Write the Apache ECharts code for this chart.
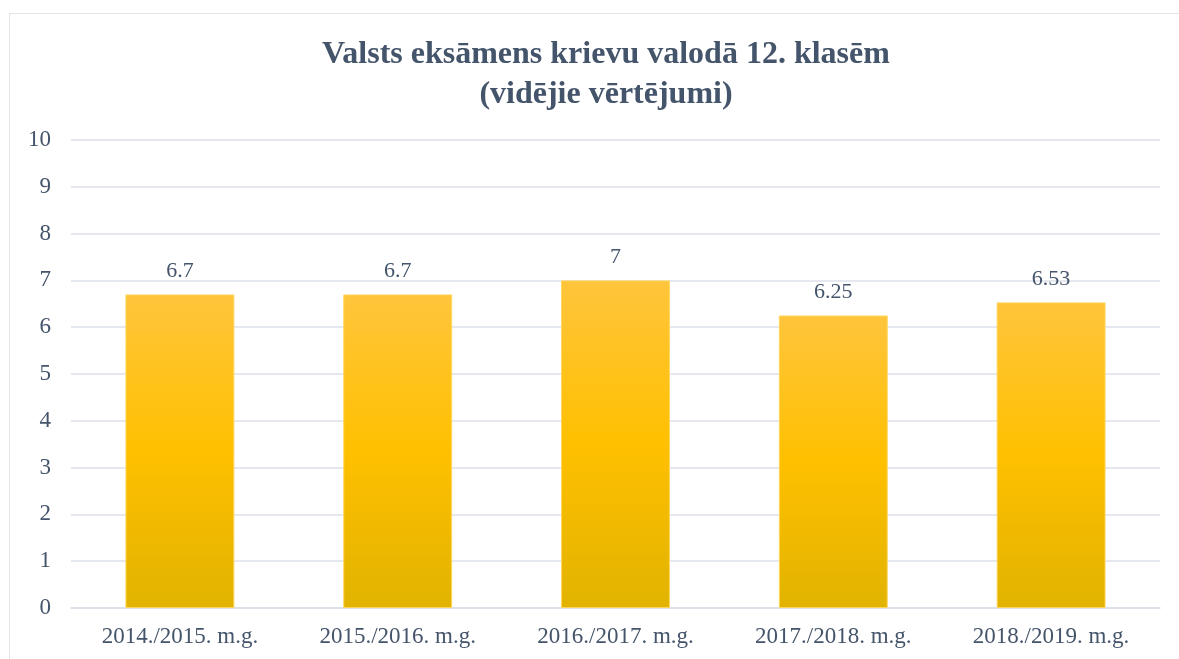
<!DOCTYPE html>
<html lang="lv">
<head>
  <meta charset="UTF-8">
  <title>Valsts eksāmens krievu valodā</title>
  <style>
    html, body { margin: 0; padding: 0; background: #fff; overflow: hidden; }
    #frame { position: absolute; left: 9px; top: 13px; width: 1200px; height: 700px;
             border: 1px solid #e1e4e9; box-sizing: border-box; }
    #chart { position: absolute; left: 0; top: 0; width: 1179px; height: 659px; }
  </style>
</head>
<body>
  <div id="frame"></div>
  <div id="chart"></div>

<script src="https://cdn.jsdelivr.net/npm/echarts@6/dist/echarts.min.js"></script>
<script>
  const years = ['2014./2015. m.g.', '2015./2016. m.g.', '2016./2017. m.g.', '2017./2018. m.g.', '2018./2019. m.g.'];
  const averages = [6.7, 6.7, 7, 6.25, 6.53];

  const textColor = '#44546a';
  const serif = '"Liberation Serif", "Times New Roman", serif';

  const myChart = echarts.init(document.getElementById('chart'));
  const option = {
    title: {
      text: 'Valsts eksāmens krievu valodā 12. klasēm\n(vidējie vērtējumi)',
      left: 601,
      textAlign: 'center',
      top: 30,
      textStyle: {
        fontFamily: serif,
        fontWeight: 'bold',
        fontSize: 32,
        lineHeight: 40,
        color: textColor
      }
    },
    grid: {
      left: 71,
      right: 19,
      top: 140,
      bottom: 51
    },
    xAxis: {
      type: 'category',
      data: years,
      axisLine: { lineStyle: { color: '#d9dee6', width: 1.5 } },
      axisTick: { show: false },
      axisLabel: {
        fontFamily: serif,
        fontSize: 23,
        color: textColor,
        margin: 17
      }
    },
    yAxis: {
      type: 'value',
      min: 0,
      max: 10,
      interval: 1,
      axisLine: { show: false },
      axisTick: { show: false },
      splitLine: { lineStyle: { color: '#dde1e8', width: 1.5 } },
      axisLabel: {
        fontFamily: serif,
        fontSize: 23,
        color: textColor,
        margin: 20
      }
    },
    series: [
      {
        type: 'bar',
        data: averages,
        barWidth: '50%',
        itemStyle: {
          color: new echarts.graphic.LinearGradient(0, 0, 0, 1, [
            { offset: 0, color: '#ffc53c' },
            { offset: 0.5, color: '#ffc000' },
            { offset: 1, color: '#e1b300' }
          ]),
          borderColor: '#ffd65c',
          borderWidth: 1
        },
        label: {
          show: true,
          position: 'top',
          distance: 12,
          fontFamily: serif,
          fontSize: 22,
          color: textColor
        }
      }
    ]
  };

  myChart.setOption(option);
</script>
</body>
</html>
